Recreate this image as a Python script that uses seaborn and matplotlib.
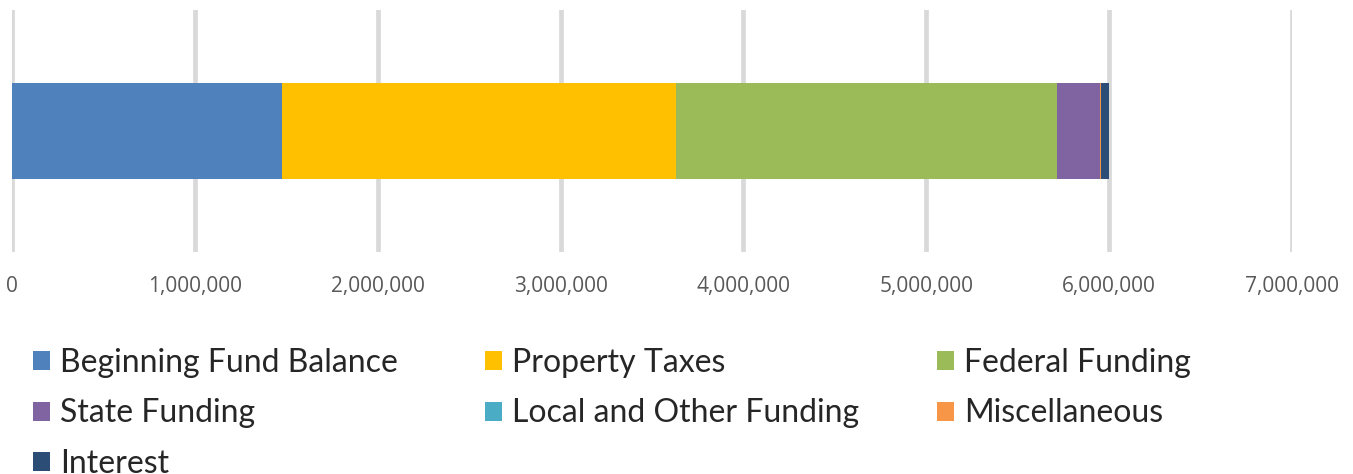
import matplotlib
matplotlib.use("Agg")
import matplotlib.pyplot as plt
from matplotlib.patches import Patch
from matplotlib.ticker import FuncFormatter
import seaborn as sns
import numpy as np
import pandas as pd

categories = ["Beginning Fund Balance", "Property Taxes", "Federal Funding",
              "State Funding", "Local and Other Funding", "Miscellaneous", "Interest"]
values = [1476000, 2154000, 2083000, 236000, 2000, 6000, 42000]
colors = ["#4F81BD", "#FFC000", "#9BBB59", "#8064A2", "#4BACC6", "#F79646", "#2C4D75"]
tick_values = [0, 1000000, 2000000, 3000000, 4000000, 5000000, 6000000, 7000000]

sns.set_theme(style="white")
plt.rcParams['font.family'] = ['Open Sans', 'DejaVu Sans']

W, H = 1353, 474
fig = plt.figure(figsize=(W / 100, H / 100), dpi=100)
ax = fig.add_axes([12 / W, 1 - 252 / H, (1292 - 12) / W, (252 - 10) / H])

cum = np.cumsum(values)
# draw from the largest cumulative total down so each segment shows
for i in range(len(values) - 1, -1, -1):
    df = pd.DataFrame({"total": [cum[i]], "row": ["r"]})
    sns.barplot(data=df, x="total", y="row", orient="h", color=colors[i],
                width=0.4, saturation=1, linewidth=0, edgecolor="none",
                ax=ax, zorder=3)

ax.set_xlim(0, 7000000)
ax.set_ylim(0.5, -0.5)
ax.set_xticks(tick_values)
ax.xaxis.set_major_formatter(FuncFormatter(lambda v, p: f"{int(v):,}"))
ax.set_yticks([])
ax.set_xlabel("")
ax.set_ylabel("")
for s in ax.spines.values():
    s.set_visible(False)
ax.grid(axis="x", color="#D9D9D9", linewidth=3.4, zorder=0)
ax.set_axisbelow(True)
ax.tick_params(axis="x", length=0, pad=17, labelsize=15, labelcolor="#595959")

# legend in three columns, filled row-wise like the reference
cols = [[0, 3, 6], [1, 4], [2, 5]]
xs = [33, 485, 937]
for cx, idxs in zip(xs, cols):
    handles = [Patch(facecolor=colors[i], edgecolor="none") for i in idxs]
    labels = [categories[i] for i in idxs]
    fig.legend(handles, labels, loc="upper left",
               bbox_to_anchor=(cx / W, 1 - 348 / H),
               frameon=False, ncol=1, borderpad=0, borderaxespad=0,
               handlelength=0.53, handleheight=0.53, handletextpad=0.31,
               labelspacing=0.64,
               prop={"family": ["Lato", "DejaVu Sans"], "size": 23})

fig.savefig("out.png", dpi=100)
